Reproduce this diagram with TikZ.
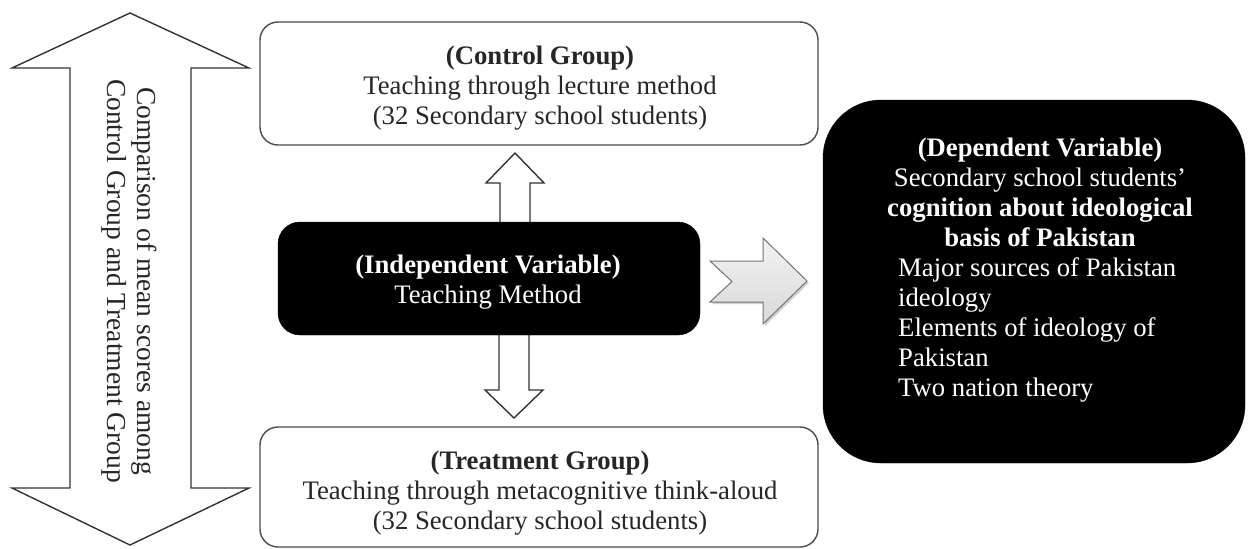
\documentclass[tikz,border=0pt]{standalone}
\usepackage{fontspec}
\setmainfont{Liberation Serif}
\usetikzlibrary{shadows,calc}
\begin{document}
\begin{tikzpicture}[x=1pt,y=-1pt,
  txt/.style={font=\fontsize{26.7}{30}\selectfont, align=center, inner sep=0pt},
  wbox/.style={draw=black!70, line width=1.4pt, rounded corners=18pt, fill=white, inner sep=0pt},
  bbox/.style={draw=black, fill=black, inner sep=0pt},
  barrow/.style={draw=black!80, line width=1.4pt, fill=white, line join=miter}]
\useasboundingbox[fill=white] (0,0) rectangle (1248,549);

% left double block arrow
\draw[barrow] (130,13) -- (249,68) -- (191,68) -- (191,488) -- (249,488) -- (130,545)
  -- (12,488) -- (70,488) -- (70,68) -- (12,68) -- cycle;
\node[txt, font=\fontsize{27.5}{30}\selectfont, rotate=-90, text=black!85] (cmp) at (129,281)
  {Comparison of mean scores among\\Control Group and Treatment Group};

% up and down block arrows
\draw[barrow] (500,230) -- (500,183) -- (486,183) -- (515,153) -- (544,183) -- (530,183) -- (530,230);
\draw[barrow] (499,325) -- (499,390) -- (485,390) -- (514,418) -- (543,390) -- (529,390) -- (529,325);

% control group
\node[wbox, minimum width=558pt, minimum height=123pt] (ctrl) at (539,83.5) {};
\node[txt, text=black!85] (ctrltxt) at (540,88)
  {\textbf{(Control Group)}\\Teaching through lecture method\\(32 Secondary school students)};

% treatment group
\node[wbox, minimum width=558pt, minimum height=120pt] (trt) at (539,487) {};
\node[txt, text=black!85] (trttxt) at (540,493)
  {\textbf{(Treatment Group)}\\Teaching through metacognitive think-aloud\\(32 Secondary school students)};

% independent variable
\node[bbox, rounded corners=22pt, minimum width=422pt, minimum height=113pt] (ind) at (489,278.5) {};
\node[txt, text=white] (indtxt) at (488,282)
  {\textbf{(Independent Variable)}\\Teaching Method};

% chevron arrow
\draw[draw=black!55, line width=1pt, top color=gray!10, bottom color=gray!30,
      drop shadow={opacity=0.35, shadow xshift=2pt, shadow yshift=-2pt}]
  (710,261) -- (763,261) -- (763,238) -- (807,281) -- (763,324) -- (763,302) -- (710,302) -- (732,281.5) -- cycle;

% dependent variable
\node[bbox, rounded corners=58pt, minimum width=422pt, minimum height=363pt] (dep) at (1034,281.5) {};
\node[txt, text=white] (dephead) at (1040,192)
  {\textbf{(Dependent Variable)}\\Secondary school students’\\\textbf{cognition about ideological}\\\textbf{basis of Pakistan}};
\node[txt, text=white, align=left, anchor=west] (deplist) at (898,330)
  {Major sources of Pakistan\\ideology\\Elements of ideology of\\Pakistan\\Two nation theory};
\end{tikzpicture}
\end{document}
